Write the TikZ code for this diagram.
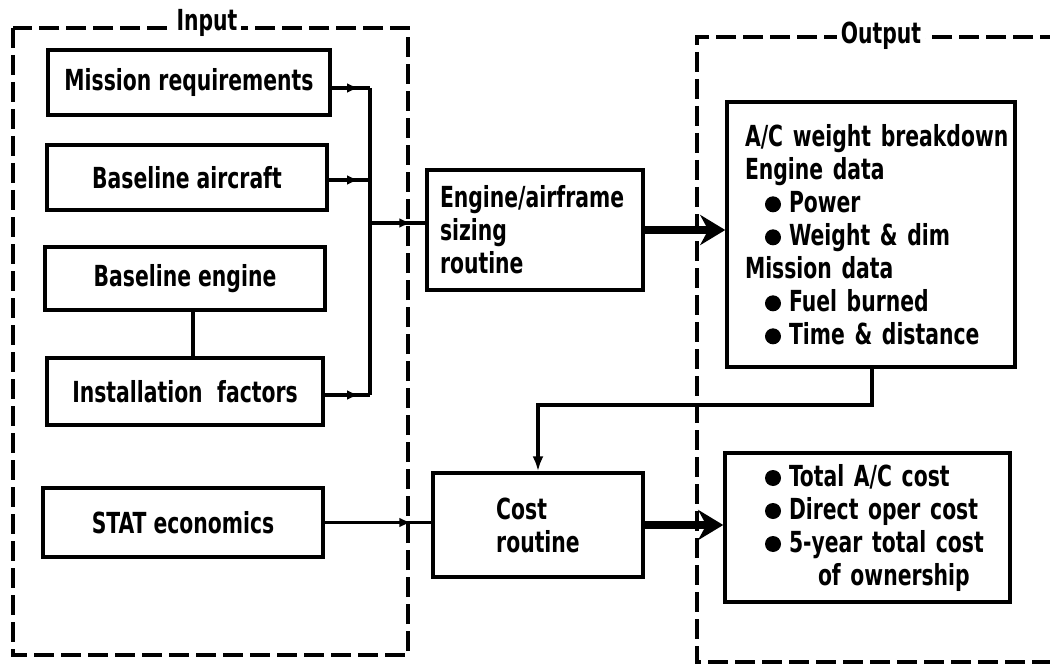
\documentclass[tikz,border=0pt]{standalone}
\usepackage{fontspec}
\setmainfont{DejaVu Sans Condensed}[BoldFont={DejaVu Sans Condensed Bold},FakeStretch=0.78]
\usetikzlibrary{arrows.meta,decorations.markings}
\newcommand\bul{\tikz[baseline=-8pt]\fill (0,0) circle[radius=8pt];}
\begin{document}
\begin{tikzpicture}[x=1pt,y=-1pt,
  every node/.style={font=\bfseries\fontsize{29}{33}\selectfont},
  box/.style={draw,line width=3.5pt,rectangle,inner sep=0pt},
  dashbox/.style={line width=4pt,dash pattern=on 20pt off 7pt},
  conn/.style={line width=3.5pt},
  midarrow/.style={postaction={decorate},decoration={markings,mark=at position #1 with {\arrow{Latex[length=12pt,width=10pt]}}}},
  bigarrow/.style={line width=7.5pt,-{Stealth[length=25pt,width=30pt,inset=8pt]}},
  lab/.style={fill=white,inner sep=4pt}
]
\useasboundingbox (0,0) rectangle (1050,666);
% dashed groups
\draw[dashbox] (13,28) rectangle (408,655);
\node[lab,anchor=base] (inlab) at (207,31) {Input};
\draw[dashbox] (1060,37) -- (697,37) -- (697,662) -- (1060,662);
\node[lab,anchor=base] (outlab) at (881,44) {Output};
% input boxes
\node[box,minimum width=282pt,minimum height=65pt] (mr) at (189,82.5) {Mission requirements};
\node[box,minimum width=280pt,minimum height=65pt] (ba) at (187,177.5) {Baseline aircraft};
\node[box,minimum width=280pt,minimum height=63pt] (be) at (185,278.5) {Baseline engine};
\node[box,minimum width=276pt,minimum height=67pt] (inst) at (185,391.5) {Installation\enspace factors};
\node[box,minimum width=280pt,minimum height=69pt] (stat) at (183,522.5) {STAT economics};
% routines
\node[box,minimum width=216pt,minimum height=120pt,text width=190pt,align=left] (eng) at (535,230) {Engine/airframe\\sizing\\routine};
\node[box,minimum width=210pt,minimum height=104pt,align=left] (cost) at (538,525) {Cost\\routine};
% outputs
\node[box,minimum width=288pt,minimum height=265pt,text width=252pt,align=left] (out1) at (871,234.5) {\mbox{A/C weight breakdown}\\Engine data\\\hspace*{20pt}\bul\hspace{8pt}Power\\\hspace*{20pt}\bul\hspace{8pt}Weight \& dim\\Mission data\\\hspace*{20pt}\bul\hspace{8pt}Fuel burned\\\hspace*{20pt}\bul\hspace{8pt}Time \& distance};
\node[box,minimum width=285pt,minimum height=149pt,text width=245pt,align=left] (out2) at (867.5,527.5) {\hspace*{20pt}\bul\hspace{8pt}Total A/C cost\\\hspace*{20pt}\bul\hspace{8pt}Direct oper cost\\\hspace*{20pt}\bul\hspace{8pt}5-year total cost\\\hspace*{73pt}of ownership};
% connectors
\coordinate (bus) at (370,0);
\coordinate (ein) at (370,223);
\coordinate (bei) at (193,0);
\coordinate (fb) at (872,405);
\draw[conn,midarrow=-11pt] ([yshift=-5.5pt]mr.east) -- ([yshift=-5.5pt]mr.east -| bus);
\draw[conn,midarrow=-11pt] ([yshift=-2.5pt]ba.east) -- ([yshift=-2.5pt]ba.east -| bus);
\draw[conn,midarrow=-11pt] ([yshift=-3.5pt]inst.east) -- ([yshift=-3.5pt]inst.east -| bus);
\draw[conn] ([yshift=-5.5pt]mr.east -| bus) -- ([yshift=-3.5pt]inst.east -| bus);
\draw[conn,midarrow=-14pt] (ein) -- (ein -| eng.west);
\draw[conn] (be.south -| bei) -- (inst.north -| bei);
\draw[conn,midarrow=-20pt] (stat.east) -- (stat.east -| cost.west);
\draw[bigarrow] (eng.east) -- (eng.east -| out1.west);
\draw[bigarrow] (cost.east) -- (cost.east -| out2.west);
\draw[conn,-{Latex[length=15pt,width=11pt]}] (out1.south -| fb) -- (fb) -| (cost.north);
\end{tikzpicture}
\end{document}
